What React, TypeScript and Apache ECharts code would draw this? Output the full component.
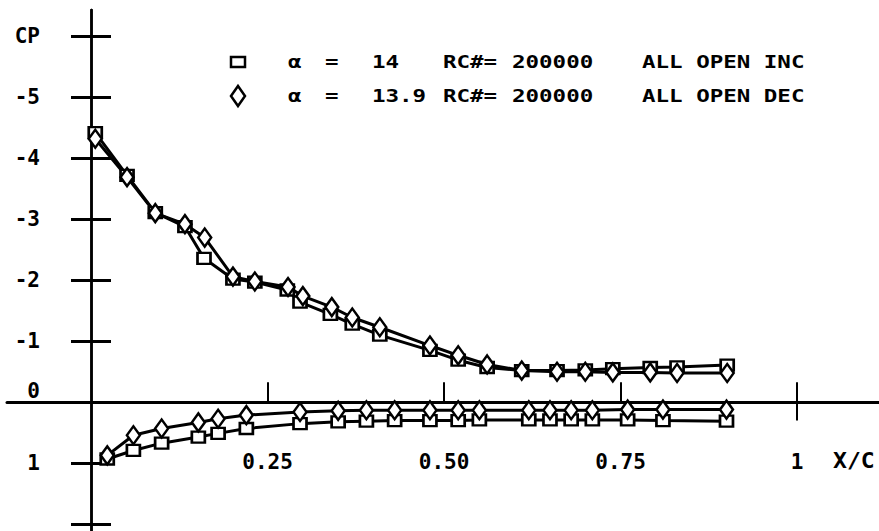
import React, { useEffect, useRef } from "react";
import * as echarts from "echarts";

// Upper surface taps (suction side), x/c and Cp
const incUpperX = [0.006, 0.051, 0.091, 0.133, 0.160, 0.201, 0.232, 0.278, 0.296, 0.339, 0.370, 0.409, 0.480, 0.520, 0.561, 0.610, 0.660, 0.700, 0.739, 0.792, 0.830, 0.901];
const incUpperCp = [-4.42, -3.72, -3.11, -2.88, -2.36, -2.02, -1.97, -1.84, -1.64, -1.44, -1.28, -1.10, -0.85, -0.69, -0.57, -0.52, -0.52, -0.53, -0.55, -0.57, -0.58, -0.61];
const decUpperX = [0.006, 0.051, 0.091, 0.133, 0.161, 0.201, 0.232, 0.279, 0.300, 0.341, 0.370, 0.409, 0.480, 0.520, 0.561, 0.610, 0.660, 0.700, 0.739, 0.792, 0.830, 0.901];
const decUpperCp = [-4.32, -3.69, -3.10, -2.92, -2.70, -2.06, -1.98, -1.89, -1.74, -1.56, -1.39, -1.23, -0.93, -0.77, -0.62, -0.52, -0.50, -0.50, -0.49, -0.49, -0.48, -0.48];

// Lower surface taps (pressure side)
const lowerX = [0.023, 0.060, 0.100, 0.152, 0.180, 0.220, 0.296, 0.350, 0.390, 0.430, 0.480, 0.520, 0.550, 0.620, 0.650, 0.680, 0.710, 0.760, 0.810, 0.900];
const incLowerCp = [0.93, 0.79, 0.67, 0.57, 0.51, 0.43, 0.35, 0.32, 0.31, 0.30, 0.30, 0.30, 0.29, 0.29, 0.29, 0.29, 0.29, 0.29, 0.30, 0.31];
const decLowerCp = [0.87, 0.54, 0.43, 0.33, 0.27, 0.21, 0.16, 0.14, 0.13, 0.13, 0.13, 0.13, 0.13, 0.13, 0.13, 0.13, 0.13, 0.12, 0.12, 0.12];

// Axis ticks and labels
const xTickValues = [0.25, 0.5, 0.75, 1];
const xTickLabels = ["0.25", "0.50", "0.75", "1"];
const yTickValues = [-6, -5, -4, -3, -2, -1, 0, 1, 2];
const yLabelValues = [-6, -5, -4, -3, -2, -1, 0, 1];
const yTickLabels = ["CP", "-5", "-4", "-3", "-2", "-1", "0", "1"];

// Legend rows: run descriptions
const legendAlpha = ["14", "13.9"];
const legendRe = ["200000", "200000"];
const legendCase = ["ALL OPEN INC", "ALL OPEN DEC"];

const FONT = "'DejaVu Sans Mono', 'Liberation Mono', monospace";
const INK = "#000";

// Axis extents: the plot frame runs past the chord on both sides
const X_MIN = -0.119;
const X_MAX = 1.116;
const Y_MIN = -6.43;
const Y_MAX = 2.11;

const zip = (xs: number[], ys: number[]) => xs.map((x, i) => [x, ys[i]]);

export default function App() {
  const ref = useRef<HTMLDivElement>(null);

  useEffect(() => {
    if (!ref.current) return;
    const chart = echarts.init(ref.current, undefined, { renderer: "svg" });

    const lineSeries = (data: number[][], symbol: string, size: number[]) => ({
      type: "line",
      xAxisIndex: 0,
      yAxisIndex: 0,
      data,
      symbol,
      symbolSize: size,
      showAllSymbol: true,
      lineStyle: { color: INK, width: 3 },
      itemStyle: { color: "#fff", borderColor: INK, borderWidth: 2.5 },
      silent: true,
    });

    const legendText = (x: number, y: number, text: string) => ({
      type: "text",
      x,
      y,
      scaleX: 1.25,
      style: {
        text,
        fill: INK,
        font: `bold 18px ${FONT}`,
        verticalAlign: "middle",
        align: "left",
      },
    });

    const rowY = [62, 96];
    const graphics: any[] = [
      {
        type: "rect",
        shape: { x: 231, y: 57, width: 14, height: 10 },
        style: { fill: "#fff", stroke: INK, lineWidth: 2.5 },
      },
      {
        type: "polygon",
        shape: { points: [[238, 86], [245, 96], [238, 106], [231, 96]] },
        style: { fill: "#fff", stroke: INK, lineWidth: 2.5 },
      },
      {
        type: "text",
        x: 833,
        y: 461,
        scaleX: 1.1,
        style: { text: "X/C", fill: INK, font: `bold 21px ${FONT}`, verticalAlign: "middle" },
      },
    ];
    rowY.forEach((y, i) => {
      graphics.push(legendText(288, y, "α"));
      graphics.push(legendText(325, y, "="));
      graphics.push(legendText(372, y, legendAlpha[i]));
      graphics.push(legendText(443, y, "RC#="));
      graphics.push(legendText(512, y, legendRe[i]));
      graphics.push(legendText(642, y, legendCase[i]));
    });

    const labelStyle = {
      color: INK,
      fontFamily: FONT,
      fontWeight: "bold",
      fontSize: 21,
    };

    const yBase = {
      type: "value",
      inverse: true,
      min: Y_MIN,
      max: Y_MAX,
      position: "left",
      splitLine: { show: false },
    };
    const xBase = {
      type: "value",
      min: X_MIN,
      max: X_MAX,
      position: "bottom",
      splitLine: { show: false },
    };

    chart.setOption({
      animation: false,
      backgroundColor: "#fff",
      grid: {
        left: 7,
        right: 0,
        top: 10,
        bottom: 0,
        containLabel: false,
        outerBoundsMode: "none",
      },
      xAxis: [
        {
          // the chord line through Cp = 0, with ticks rising from it
          ...xBase,
          axisLine: { show: true, onZero: true, onZeroAxisIndex: 0, lineStyle: { color: INK, width: 3 } },
          axisTick: {
            show: true,
            inside: true,
            length: 20,
            customValues: xTickValues,
            lineStyle: { color: INK, width: 2 },
          },
          axisLabel: { show: false },
        },
        {
          // x/c labels, set below the chord line
          ...xBase,
          offset: -129,
          axisLine: { show: false, onZero: false },
          axisTick: { show: false },
          axisLabel: {
            show: true,
            customValues: xTickValues,
            margin: 49,
            ...labelStyle,
            formatter: (v: number) => xTickLabels[xTickValues.indexOf(v)] ?? "",
          },
        },
      ],
      yAxis: [
        {
          // Cp axis at the leading edge, ticks to the left
          ...yBase,
          axisLine: { show: true, onZero: true, onZeroAxisIndex: 0, lineStyle: { color: INK, width: 2.5 } },
          axisTick: {
            show: true,
            length: 20,
            customValues: yTickValues,
            lineStyle: { color: INK, width: 3 },
          },
          axisLabel: { show: false },
        },
        {
          // same ticks continued to the right of the axis
          ...yBase,
          axisLine: { show: true, onZero: true, onZeroAxisIndex: 0, lineStyle: { color: INK, width: 2.5 } },
          axisTick: {
            show: true,
            inside: true,
            length: 20,
            customValues: yTickValues,
            lineStyle: { color: INK, width: 3 },
          },
          axisLabel: { show: false },
        },
        {
          // Cp labels
          ...yBase,
          offset: -84,
          axisLine: { show: false, onZero: false },
          axisTick: { show: false },
          axisLabel: {
            show: true,
            customValues: yLabelValues,
            margin: 51,
            ...labelStyle,
            formatter: (v: number) => {
              const t = yTickLabels[yLabelValues.indexOf(v)] ?? "";
              return v === 0 ? `{z|${t}}` : t;
            },
            rich: {
              z: { ...labelStyle, padding: [0, 0, 22, 0] },
            },
          },
        },
      ],
      series: [
        {
          ...lineSeries(zip(incUpperX, incUpperCp), "rect", [13, 11]),
          markLine: {
            silent: true,
            symbol: "none",
            label: { show: false },
            lineStyle: { color: INK, width: 2, type: "solid" },
            data: [[{ coord: [1, 0] }, { coord: [1, 0.3] }]],
          },
        },
        lineSeries(zip(lowerX, incLowerCp), "rect", [13, 11]),
        lineSeries(zip(decUpperX, decUpperCp), "diamond", [13, 18]),
        lineSeries(zip(lowerX, decLowerCp), "diamond", [13, 18]),
      ],
      graphic: graphics,
    });

    return () => chart.dispose();
  }, []);

  return (
    <div
      ref={ref}
      style={{ position: "absolute", left: 0, top: 0, width: 879, height: 531 }}
    />
  );
}
